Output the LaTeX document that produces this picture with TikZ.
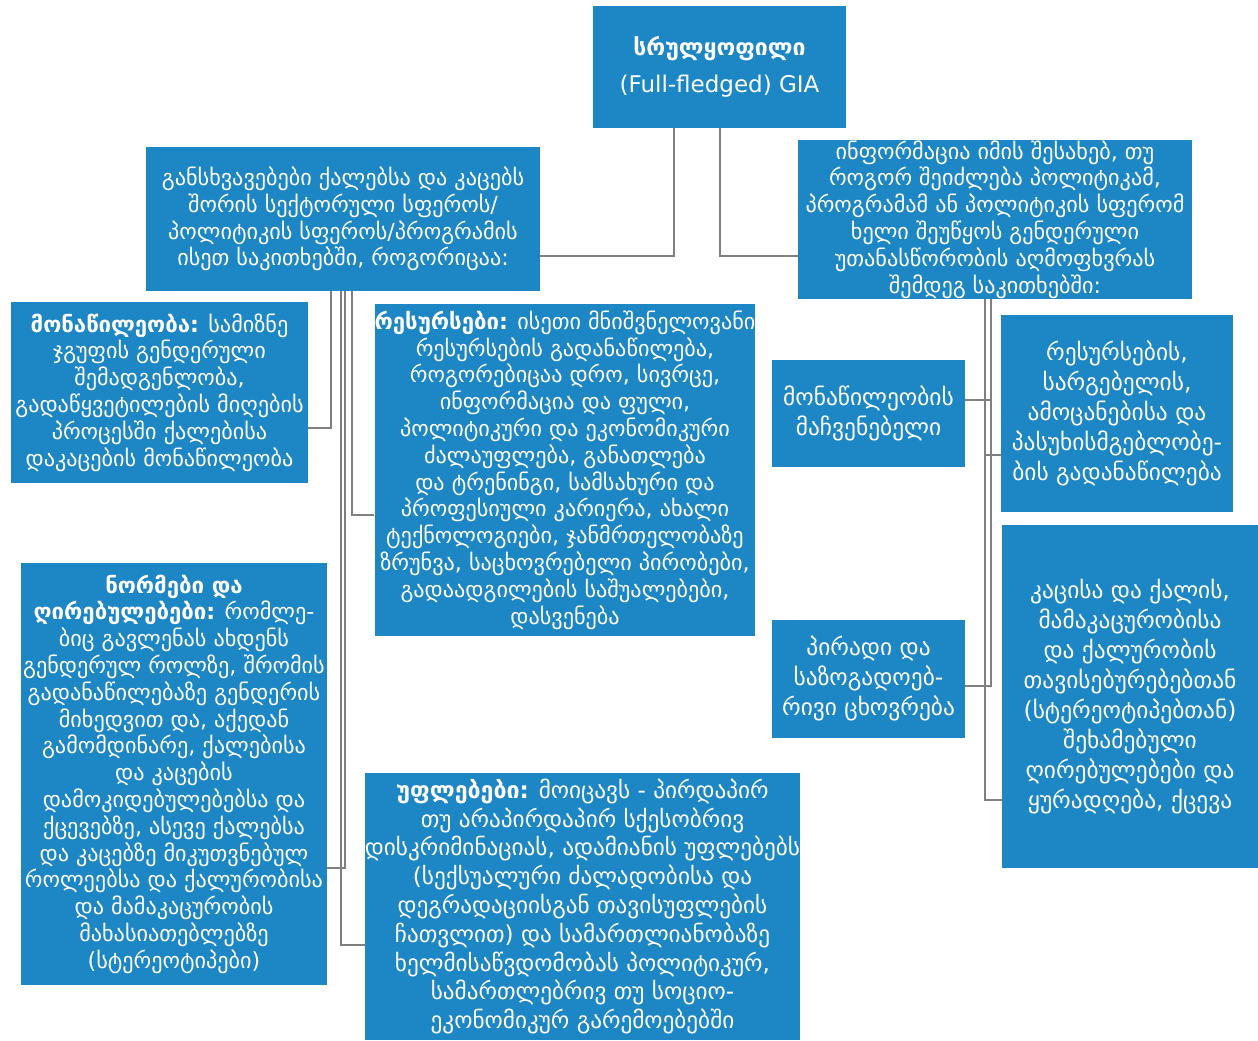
\documentclass[tikz,border=0pt]{standalone}
\usepackage{fontspec}
\setmainfont{DejaVu Sans}
\usepackage{tikz}
\usetikzlibrary{positioning,calc}
\definecolor{giablue}{RGB}{29,134,197}
\definecolor{linkgray}{RGB}{128,128,128}

\begin{document}
\begin{tikzpicture}[
    x=0.5pt, y=-0.5pt,
    box/.style={rectangle, fill=giablue, text=white, align=center, inner sep=0pt, font=\fontsize{11.1}{13.4}\selectfont},
    bigbox/.style={box, font=\fontsize{11.7}{15}\selectfont},
    link/.style={draw=linkgray, line width=0.8pt}
]
\useasboundingbox (0,0) rectangle (1258,1040);

% Top
\node[box, minimum width=126.5pt, minimum height=61pt, font=\fontsize{11.5}{18.5}\selectfont] (gia) at (719.5,67) {\textbf{სრულყოფილი}\\(Full-fledged) GIA};

% Second level
\node[box, minimum width=197pt, minimum height=72pt] (diff) at (343,219) {განსხვავებები ქალებსა და კაცებს\\შორის სექტორული სფეროს/\\პოლიტიკის სფეროს/პროგრამის\\ისეთ საკითხებში, როგორიცაა:};
\node[box, minimum width=197pt, minimum height=79.5pt] (info) at (995,219.5) {ინფორმაცია იმის შესახებ, თუ\\როგორ შეიძლება პოლიტიკამ,\\პროგრამამ ან პოლიტიკის სფერომ\\ხელი შეუწყოს გენდერული\\უთანასწორობის აღმოფხვრას\\შემდეგ საკითხებში:};

% Left branch
\node[box, minimum width=148.5pt, minimum height=90.5pt] (part) at (159.5,392.5) {\textbf{მონაწილეობა:} სამიზნე\\ჯგუფის გენდერული\\შემადგენლობა,\\გადაწყვეტილების მიღების\\პროცესში ქალებისა\\დაკაცების მონაწილეობა};
\node[box, minimum width=190pt, minimum height=166pt] (res) at (565,470) {\textbf{რესურსები:} ისეთი მნიშვნელოვანი\\რესურსების გადანაწილება,\\როგორებიცაა დრო, სივრცე,\\ინფორმაცია და ფული,\\პოლიტიკური და ეკონომიკური\\ძალაუფლება, განათლება\\და ტრენინგი, სამსახური და\\პროფესიული კარიერა, ახალი\\ტექნოლოგიები, ჯანმრთელობაზე\\ზრუნვა, საცხოვრებელი პირობები,\\გადაადგილების საშუალებები,\\დასვენება};
\node[box, minimum width=153pt, minimum height=211pt] (norms) at (174,774) {\textbf{ნორმები და}\\\textbf{ღირებულებები:} რომლე-\\ბიც გავლენას ახდენს\\გენდერულ როლზე, შრომის\\გადანაწილებაზე გენდერის\\მიხედვით და, აქედან\\გამომდინარე, ქალებისა\\და კაცების\\დამოკიდებულებებსა და\\ქცევებზე, ასევე ქალებსა\\და კაცებზე მიკუთვნებულ\\როლეებსა და ქალურობისა\\და მამაკაცურობის\\მახასიათებლებზე\\(სტერეოტიპები)};
\node[box, minimum width=217.5pt, minimum height=133.5pt, font=\fontsize{11.6}{14.4}\selectfont] (rights) at (582.5,906.5) {\textbf{უფლებები:} მოიცავს - პირდაპირ\\თუ არაპირდაპირ სქესობრივ\\დისკრიმინაციას, ადამიანის უფლებებს\\(სექსუალური ძალადობისა და\\დეგრადაციისგან თავისუფლების\\ჩათვლით) და სამართლიანობაზე\\ხელმისაწვდომობას პოლიტიკურ,\\სამართლებრივ თუ სოციო-\\ეკონომიკურ გარემოებებში};

% Right branch
\node[bigbox, minimum width=96.5pt, minimum height=53.5pt] (ind) at (868.5,413.5) {მონაწილეობის\\მაჩვენებელი};
\node[bigbox, minimum width=116pt, minimum height=98.5pt] (resd) at (1117,413.5) {რესურსების,\\სარგებელის,\\ამოცანებისა და\\პასუხისმგებლობე-\\ბის გადანაწილება};
\node[bigbox, minimum width=96.5pt, minimum height=59pt] (pers) at (868.5,679) {პირადი და\\საზოგადოებ-\\რივი ცხოვრება};
\node[bigbox, minimum width=128pt, minimum height=171.5pt] (manw) at (1130,696.5) {კაცისა და ქალის,\\მამაკაცურობისა\\და ქალურობის\\თავისებურებებთან\\(სტერეოტიპებთან)\\შეხამებული\\ღირებულებები და\\ყურადღება, ქცევა};

% Connectors from the top
\draw[link] ($(gia.south)+(-45.5,0)$) |- ($(diff.east)+(0,37)$);
\draw[link] ($(gia.south)+(0.5,0)$) |- ($(info.west)+(0,36.5)$);

% Connectors of the left branch
\draw[link] ($(diff.south)+(-12,0)$) |- ($(part.east)+(0,35.5)$);
\draw[link] ($(diff.south)+(-2,0)$) |- ($(rights.west)+(0,38.5)$);
\draw[link] ($(diff.south)+(2,0)$) |- ($(norms.east)+(0,94)$);
\draw[link] ($(diff.south)+(9,0)$) |- ($(res.west)+(0,45)$);

% Connectors of the right branch
\draw[link] ($(info.south)+(-4,0)$) |- ($(ind.east)+(0,-13.5)$);
\draw[link] ($(info.south)+(-4,0)$) |- ($(pers.east)+(0,7)$);
\draw[link] ($(info.south)+(-10,0)$) |- ($(resd.west)+(0,41.5)$);
\draw[link] ($(info.south)+(-10,0)$) |- ($(manw.west)+(0,103.5)$);

\end{tikzpicture}
\end{document}
